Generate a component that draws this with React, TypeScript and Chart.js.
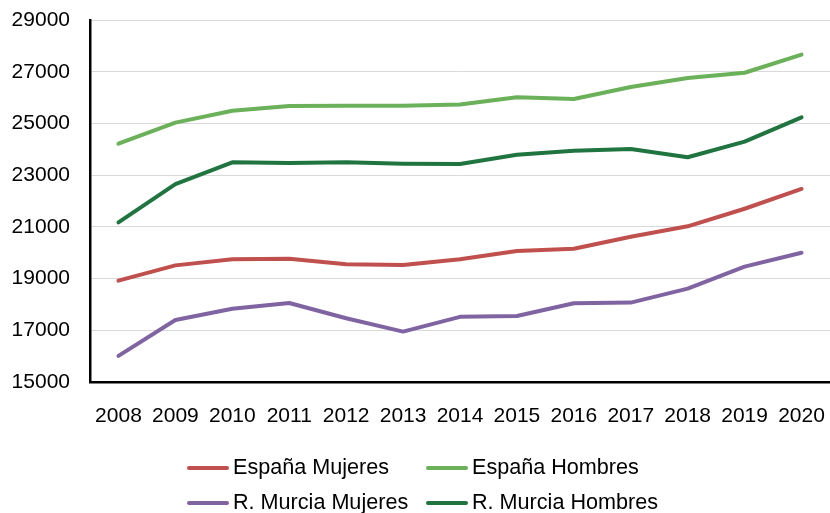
import React, { useEffect, useRef } from "react";
import { Chart, registerables } from "chart.js";

Chart.register(...registerables);

const years = ["2008", "2009", "2010", "2011", "2012", "2013", "2014", "2015", "2016", "2017", "2018", "2019", "2020"];

const espanaMujeres = [18920, 19510, 19745, 19770, 19550, 19525, 19745, 20065, 20155, 20620, 21020, 21700, 22465];
const espanaHombres = [24215, 25030, 25490, 25675, 25680, 25685, 25730, 26010, 25945, 26410, 26755, 26960, 27660];
const murciaMujeres = [16010, 17400, 17835, 18055, 17465, 16950, 17520, 17550, 18045, 18070, 18610, 19460, 20000];
const murciaHombres = [21175, 22655, 23495, 23470, 23495, 23445, 23430, 23790, 23945, 24010, 23690, 24295, 25235];

const yTicks = [15000, 17000, 19000, 21000, 23000, 25000, 27000, 29000];

const FONT = "'Liberation Sans', Arial, sans-serif";

const series = [
  { label: "España Mujeres", data: espanaMujeres, color: "#C0504D" },
  { label: "España Hombres", data: espanaHombres, color: "#6AB159" },
  { label: "R. Murcia Mujeres", data: murciaMujeres, color: "#8064A2" },
  { label: "R. Murcia Hombres", data: murciaHombres, color: "#1F7440" },
];

// Two-column legend drawn under the axis
const gridLegend = {
  id: "gridLegend",
  afterDraw(chart: any) {
    const ctx = chart.ctx as CanvasRenderingContext2D;
    const lineLen = 42;
    const gap = 4;
    const colStarts = [187, 426];
    const rowYs = [468, 503];
    ctx.save();
    ctx.font = `21.6px ${FONT}`;
    ctx.textBaseline = "middle";
    ctx.textAlign = "left";
    chart.data.datasets.forEach((ds: any, i: number) => {
      const x = colStarts[i % 2];
      const y = rowYs[Math.floor(i / 2)];
      ctx.strokeStyle = ds.borderColor;
      ctx.lineWidth = 4;
      ctx.lineCap = "round";
      ctx.beginPath();
      ctx.moveTo(x + 2, y);
      ctx.lineTo(x + lineLen - 2, y);
      ctx.stroke();
      ctx.fillStyle = "#000";
      ctx.fillText(ds.label, x + lineLen + gap, y);
    });
    ctx.restore();
  },
};

export default function App() {
  const canvasRef = useRef<HTMLCanvasElement | null>(null);

  useEffect(() => {
    document.body.style.margin = "0";
    const canvas = canvasRef.current;
    if (!canvas) return;
    const chart = new Chart(canvas, {
      type: "line",
      data: {
        labels: years,
        datasets: series.map((s) => ({
          label: s.label,
          data: s.data,
          borderColor: s.color,
          backgroundColor: s.color,
          borderWidth: 4,
          pointRadius: 0,
          tension: 0,
          borderCapStyle: "round" as const,
          borderJoinStyle: "round" as const,
          fill: false,
        })),
      },
      options: {
        animation: false,
        responsive: true,
        maintainAspectRatio: false,
        layout: { padding: { top: 20, left: 0, right: -3, bottom: 81 } },
        plugins: {
          legend: { display: false },
          tooltip: { enabled: false },
        },
        scales: {
          x: {
            offset: true,
            grid: { display: false, drawTicks: false },
            border: { display: true, color: "#000", width: 2.5 },
            ticks: {
              color: "#000",
              font: { family: FONT, size: 21 },
              padding: 22,
              maxRotation: 0,
              autoSkip: false,
            },
            afterFit: (scale: any) => {
              scale.height = 50;
              scale.paddingLeft = 0;
              scale.paddingRight = 0;
            },
          },
          y: {
            min: 15000,
            max: 29000,
            afterBuildTicks: (scale: any) => {
              scale.ticks = yTicks.map((v) => ({ value: v }));
            },
            grid: { color: "#D9D9D9", lineWidth: 1, drawTicks: false },
            border: { display: true, color: "#000", width: 2.5 },
            ticks: {
              color: "#000",
              font: { family: FONT, size: 21 },
              padding: 20,
              callback: (v: any) => String(v),
            },
            afterFit: (scale: any) => {
              scale.width = 90;
              scale.paddingTop = 0;
              scale.paddingBottom = 0;
            },
          },
        },
      },
      plugins: [gridLegend],
    });
    return () => chart.destroy();
  }, []);

  return (
    <div style={{ width: 830, height: 513, position: "relative" }}>
      <canvas ref={canvasRef} />
    </div>
  );
}
